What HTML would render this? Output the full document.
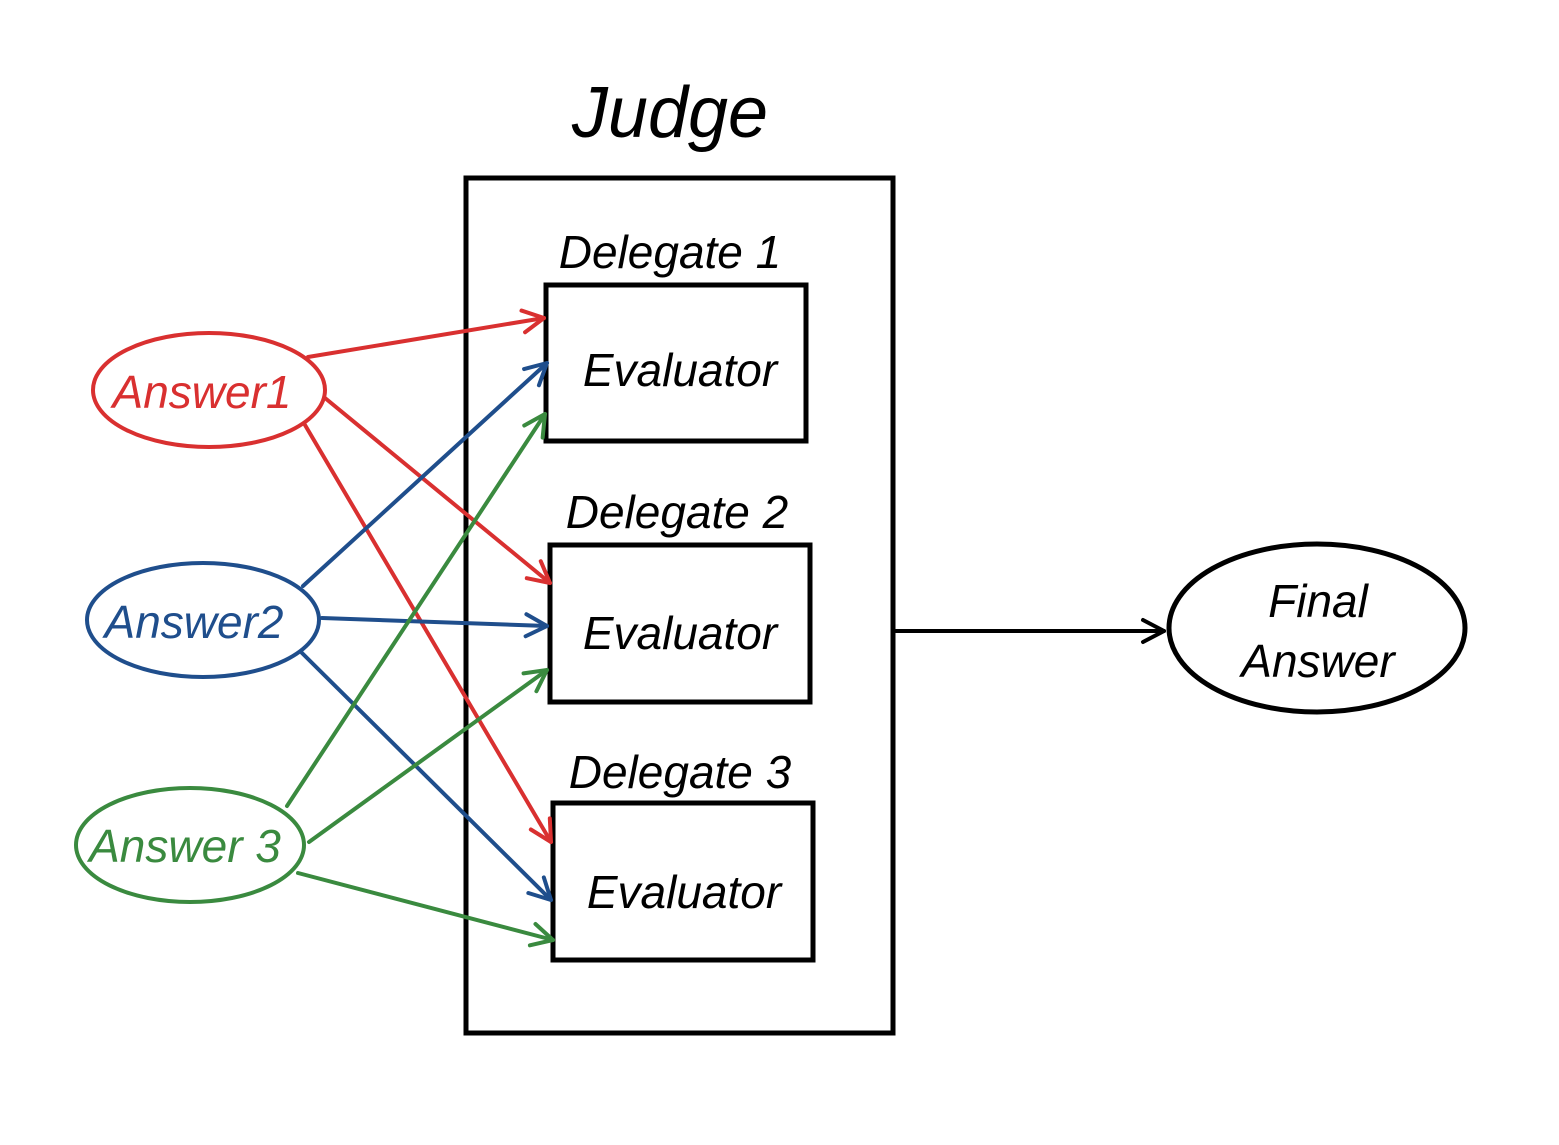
<!DOCTYPE html>
<html><head><meta charset="utf-8"><style>
html,body{margin:0;padding:0;background:#fff;}
svg{display:block;}
text{font-family:"Liberation Sans",sans-serif;font-style:italic;}
</style></head><body>
<svg width="1559" height="1145" viewBox="0 0 1559 1145" xmlns="http://www.w3.org/2000/svg">
<defs>
<marker id="r" markerWidth="28" markerHeight="28" refX="24" refY="14" orient="auto" markerUnits="userSpaceOnUse" viewBox="0 0 28 28"><path d="M3,3 L24,14 L3,25" fill="none" stroke="#d93030" stroke-width="4" stroke-linecap="round" stroke-linejoin="round"/></marker>
<marker id="b" markerWidth="28" markerHeight="28" refX="24" refY="14" orient="auto" markerUnits="userSpaceOnUse" viewBox="0 0 28 28"><path d="M3,3 L24,14 L3,25" fill="none" stroke="#1f4e8c" stroke-width="4" stroke-linecap="round" stroke-linejoin="round"/></marker>
<marker id="g" markerWidth="28" markerHeight="28" refX="24" refY="14" orient="auto" markerUnits="userSpaceOnUse" viewBox="0 0 28 28"><path d="M3,3 L24,14 L3,25" fill="none" stroke="#3a8a3f" stroke-width="4" stroke-linecap="round" stroke-linejoin="round"/></marker>
<marker id="k" markerWidth="28" markerHeight="28" refX="24" refY="14" orient="auto" markerUnits="userSpaceOnUse" viewBox="0 0 28 28"><path d="M3,3 L24,14 L3,25" fill="none" stroke="#000" stroke-width="4" stroke-linecap="round" stroke-linejoin="round"/></marker>
</defs>
<g fill="none" stroke-width="5" stroke="#000">
<rect x="466" y="178" width="427" height="855"/>
<rect x="546" y="285" width="260" height="156"/>
<rect x="550" y="545" width="260" height="157"/>
<rect x="553" y="803" width="260" height="157"/>
<ellipse cx="1317" cy="628" rx="148" ry="84"/>
</g>
<g fill="none" stroke-width="4">
<ellipse cx="209" cy="390" rx="116" ry="57" stroke="#d93030"/>
<ellipse cx="203" cy="620" rx="116" ry="57" stroke="#1f4e8c"/>
<ellipse cx="190" cy="845" rx="114" ry="57" stroke="#3a8a3f"/>
</g>
<g stroke-width="4" fill="none" stroke-linecap="round">
<line x1="308" y1="357" x2="544" y2="318" stroke="#d93030" marker-end="url(#r)"/>
<line x1="325" y1="398" x2="550" y2="583" stroke="#d93030" marker-end="url(#r)"/>
<line x1="305" y1="425" x2="551" y2="842" stroke="#d93030" marker-end="url(#r)"/>
<line x1="303" y1="586" x2="547" y2="363" stroke="#1f4e8c" marker-end="url(#b)"/>
<line x1="322" y1="618" x2="547" y2="626" stroke="#1f4e8c" marker-end="url(#b)"/>
<line x1="302" y1="653" x2="551" y2="900" stroke="#1f4e8c" marker-end="url(#b)"/>
<line x1="287" y1="806" x2="545" y2="414" stroke="#3a8a3f" marker-end="url(#g)"/>
<line x1="309" y1="842" x2="547" y2="670" stroke="#3a8a3f" marker-end="url(#g)"/>
<line x1="298" y1="873" x2="553" y2="940" stroke="#3a8a3f" marker-end="url(#g)"/>
<line x1="896" y1="631" x2="1164" y2="631" stroke="#000" marker-end="url(#k)"/>
</g>
<g text-anchor="middle">
<text x="670" y="137" font-size="72">Judge</text>
<text x="670" y="268" font-size="46">Delegate  1</text>
<text x="677" y="528" font-size="46">Delegate  2</text>
<text x="680" y="788" font-size="46">Delegate  3</text>
<text x="680" y="386" font-size="46">Evaluator</text>
<text x="680" y="649" font-size="46">Evaluator</text>
<text x="684" y="908" font-size="46">Evaluator</text>
<text x="202" y="408" font-size="46" fill="#d93030">Answer1</text>
<text x="194" y="638" font-size="46" fill="#1f4e8c">Answer2</text>
<text x="185" y="862" font-size="46" fill="#3a8a3f">Answer 3</text>
<text x="1318" y="617" font-size="46">Final</text>
<text x="1318" y="677" font-size="46">Answer</text>
</g>
</svg>
</body></html>
